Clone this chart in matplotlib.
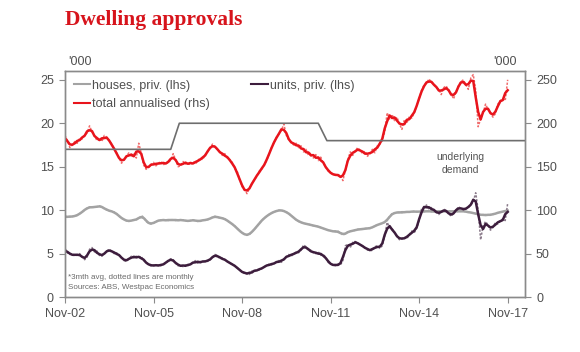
import numpy as np
import pandas as pd
import matplotlib
matplotlib.use("Agg")
import matplotlib.pyplot as plt
from matplotlib.lines import Line2D

plt.rcParams['font.family'] = ['Liberation Sans', 'DejaVu Sans']

# monthly data, Nov-02 .. Nov-17 ('000)
tick_labels = ['Nov-02', 'Nov-05', 'Nov-08', 'Nov-11', 'Nov-14', 'Nov-17']

houses = [
    9.2, 9.3, 9.2, 9.3, 9.3, 9.4, 9.6, 9.8, 10.0, 10.3,
    10.3, 10.4, 10.3, 10.4, 10.5, 10.4, 10.2, 10.0, 10.0, 9.8,
    9.8, 9.6, 9.3, 9.1, 8.9, 8.8, 8.7, 8.8, 8.9, 8.9,
    9.0, 9.4, 9.2, 8.7, 8.5, 8.4, 8.5, 8.7, 8.8, 8.9,
    8.8, 8.9, 8.8, 8.9, 8.9, 8.8, 8.9, 8.8, 8.9, 8.8,
    8.7, 8.8, 8.9, 8.8, 8.7, 8.8, 8.8, 8.9, 8.9, 9.0,
    9.2, 9.3, 9.2, 9.1, 9.1, 9.0, 8.8, 8.6, 8.4, 8.2,
    7.9, 7.6, 7.4, 7.2, 7.1, 7.2, 7.5, 7.8, 8.1, 8.5,
    8.8, 9.1, 9.3, 9.5, 9.7, 9.8, 9.9, 10.0, 10.0, 9.9,
    9.8, 9.6, 9.4, 9.1, 8.9, 8.7, 8.6, 8.5, 8.4, 8.4,
    8.3, 8.2, 8.2, 8.1, 8.0, 7.9, 7.8, 7.7, 7.6, 7.6,
    7.5, 7.6, 7.4, 7.1, 7.3, 7.5, 7.6, 7.6, 7.7, 7.8,
    7.8, 7.8, 7.9, 7.9, 7.9, 8.0, 8.2, 8.3, 8.4, 8.5,
    8.6, 8.8, 9.3, 9.6, 9.7, 9.7, 9.8, 9.7, 9.8, 9.8,
    9.8, 9.8, 9.9, 9.8, 9.8, 9.9, 9.8, 9.9, 9.9, 9.8,
    9.9, 9.8, 9.9, 9.9, 9.8, 9.9, 9.9, 9.8, 9.9, 9.9,
    9.8, 9.9, 9.9, 9.8, 9.8, 9.7, 9.7, 9.6, 9.5, 9.5,
    9.4, 9.5, 9.4, 9.5, 9.5, 9.6, 9.7, 9.8, 9.8, 9.9,
    10.0,
]

units = [
    5.6, 5.1, 4.9, 5.0, 4.7, 4.9, 5.0, 4.6, 4.3, 4.6,
    5.5, 5.7, 5.2, 5.3, 4.8, 4.7, 5.0, 5.3, 5.5, 5.3,
    5.0, 5.1, 4.8, 4.6, 4.2, 4.1, 4.4, 4.7, 4.5, 4.7,
    4.5, 4.7, 4.2, 4.0, 3.7, 3.6, 3.7, 3.6, 3.7, 3.6,
    3.8, 3.9, 4.2, 4.4, 4.3, 3.9, 3.6, 3.7, 3.5, 3.7,
    3.6, 3.8, 3.9, 4.2, 3.9, 4.1, 4.0, 4.2, 4.1, 4.3,
    4.6, 4.9, 4.8, 4.4, 4.5, 4.3, 4.1, 3.9, 3.8, 3.6,
    3.4, 3.1, 2.9, 2.7, 2.8, 2.6, 3.0, 2.9, 3.2, 3.1,
    3.3, 3.5, 3.6, 3.8, 3.7, 3.9, 4.0, 4.2, 4.0, 4.4,
    4.6, 4.9, 4.7, 5.0, 5.2, 5.1, 5.4, 6.0, 5.8, 5.3,
    5.4, 5.1, 5.0, 5.2, 4.8, 4.9, 4.6, 4.0, 3.8, 3.7,
    3.6, 3.8, 3.7, 4.2, 5.9, 6.1, 5.7, 6.3, 6.4, 6.2,
    6.0, 5.9, 5.7, 5.4, 5.5, 5.3, 5.8, 5.9, 5.6, 5.9,
    7.0, 8.6, 8.0, 7.9, 7.4, 7.0, 6.6, 6.7, 6.9, 6.7,
    7.2, 7.6, 7.4, 7.9, 8.8, 10.2, 10.3, 10.6, 10.1, 10.3,
    10.0, 9.8, 9.5, 9.8, 10.1, 10.0, 9.6, 9.3, 9.6, 10.0,
    10.4, 10.2, 10.0, 10.2, 10.3, 10.6, 11.0, 12.0, 10.0, 6.6,
    8.2, 8.7, 8.3, 7.7, 8.0, 8.6, 8.4, 8.8, 9.0, 8.8,
    10.8,
]

total = [
    186, 180, 172, 175, 179, 177, 183, 182, 186, 189,
    197, 190, 186, 180, 183, 179, 186, 184, 180, 176,
    170, 166, 160, 154, 158, 162, 166, 161, 165, 160,
    177, 166, 152, 147, 150, 152, 155, 151, 154, 156,
    152, 155, 154, 158, 165, 158, 150, 151, 156, 153,
    155, 152, 156, 153, 157, 160, 158, 164, 167, 172,
    176, 173, 170, 167, 163, 165, 160, 158, 155, 148,
    145, 135, 127, 124, 119, 125, 131, 135, 139, 145,
    147, 152, 157, 165, 172, 178, 184, 188, 192, 199,
    186, 181, 178, 175, 177, 172, 174, 167, 170, 163,
    166, 160, 164, 157, 161, 154, 150, 145, 143, 141,
    140, 141, 140, 134, 146, 158, 167, 163, 168, 172,
    169, 165, 168, 162, 165, 170, 166, 174, 176, 180,
    190, 212, 205, 210, 203, 207, 199, 193, 204, 200,
    208, 206, 212, 220, 228, 238, 244, 246, 251, 247,
    245, 241, 239, 233, 241, 243, 237, 234, 228, 236,
    243, 248, 250, 244, 239, 252, 256, 238, 196, 205,
    212, 222, 216, 212, 207, 211, 222, 226, 228, 226,
    250,
]

# underlying demand (rhs), month index / level
demand_m = [0, 43, 46.5, 103, 106.5, 187]
demand_v = [170, 170, 200, 200, 180, 180]

months = np.arange(len(houses))
smooth = lambda s: pd.Series(s).rolling(3, center=True, min_periods=1).mean()

fig = plt.figure(figsize=(5.8, 3.52), dpi=100)
ax = fig.add_axes([0.112, 0.156, 0.793, 0.642])
ax2 = ax.twinx()

dot = (0, (1.5, 1))
ax.plot(months, houses, ls=dot, color='#b0b0b0', lw=1.1)
ax.plot(months, smooth(houses), color='#a3a3a3', lw=1.8)
ax.plot(months, units, ls=dot, color='#8a7a8a', lw=1.1)
ax.plot(months, smooth(units), color='#3d1d3d', lw=1.8)
ax2.plot(months, total, ls=dot, color='#f06c6c', lw=1.1)
ax2.plot(months, smooth(total), color='#e8141c', lw=1.8)
ax2.plot(demand_m, demand_v, color='#6e6e6e', lw=1.2)

ax.set_xlim(0, 187)
ax.set_ylim(0, 26)
ax2.set_ylim(0, 260)
ax.set_xticks(np.arange(0, 181, 36))
ax.set_xticklabels(tick_labels)
ax.set_yticks(range(0, 26, 5))
ax2.set_yticks(range(0, 260, 50))

for a in (ax, ax2):
    for s in a.spines.values():
        s.set_color('#8a8a8a')
        s.set_linewidth(1)
    a.tick_params(direction='out', length=4, width=0.8, color='#8a8a8a',
                  labelcolor='#505050', labelsize=9, pad=4)

handles = [
    Line2D([], [], color='#a3a3a3', lw=1.5, label='houses, priv. (lhs)'),
    Line2D([], [], color='#e8141c', lw=1.5, label='total annualised (rhs)'),
    Line2D([], [], color='#3d1d3d', lw=1.5, label='units, priv. (lhs)'),
]
leg = ax2.legend(handles=handles, ncol=2, loc='upper left', bbox_to_anchor=(0.0, 1.0),
                 frameon=False, fontsize=9, handlelength=1.3, handletextpad=0.2,
                 columnspacing=3.3, labelspacing=0.5, borderaxespad=0.3)
for t in leg.get_texts():
    t.set_color('#505050')

ax2.text(0.007, 0.085, '*3mth avg, dotted lines are monthly', transform=ax.transAxes,
         fontsize=5.8, color='#6a6a6a', va='center')
ax2.text(0.007, 0.041, 'Sources: ABS, Westpac Economics', transform=ax.transAxes,
         fontsize=5.8, color='#6a6a6a', va='center')
ax2.text(0.859, 0.621, 'underlying', transform=ax.transAxes, fontsize=7.5,
         color='#555555', ha='center', va='center')
ax2.text(0.859, 0.562, 'demand', transform=ax.transAxes, fontsize=7.5,
         color='#555555', ha='center', va='center')

fig.text(0.117, 0.824, "'000", fontsize=9, color='#505050', va='center')
fig.text(0.891, 0.824, "'000", fontsize=9, color='#505050', va='center', ha='right')
fig.text(0.112, 0.943, 'Dwelling approvals', fontsize=15.5, fontweight='bold',
         family=['Liberation Serif', 'DejaVu Serif'], color='#d7141c', va='center')

fig.savefig('out.png', dpi=100)
